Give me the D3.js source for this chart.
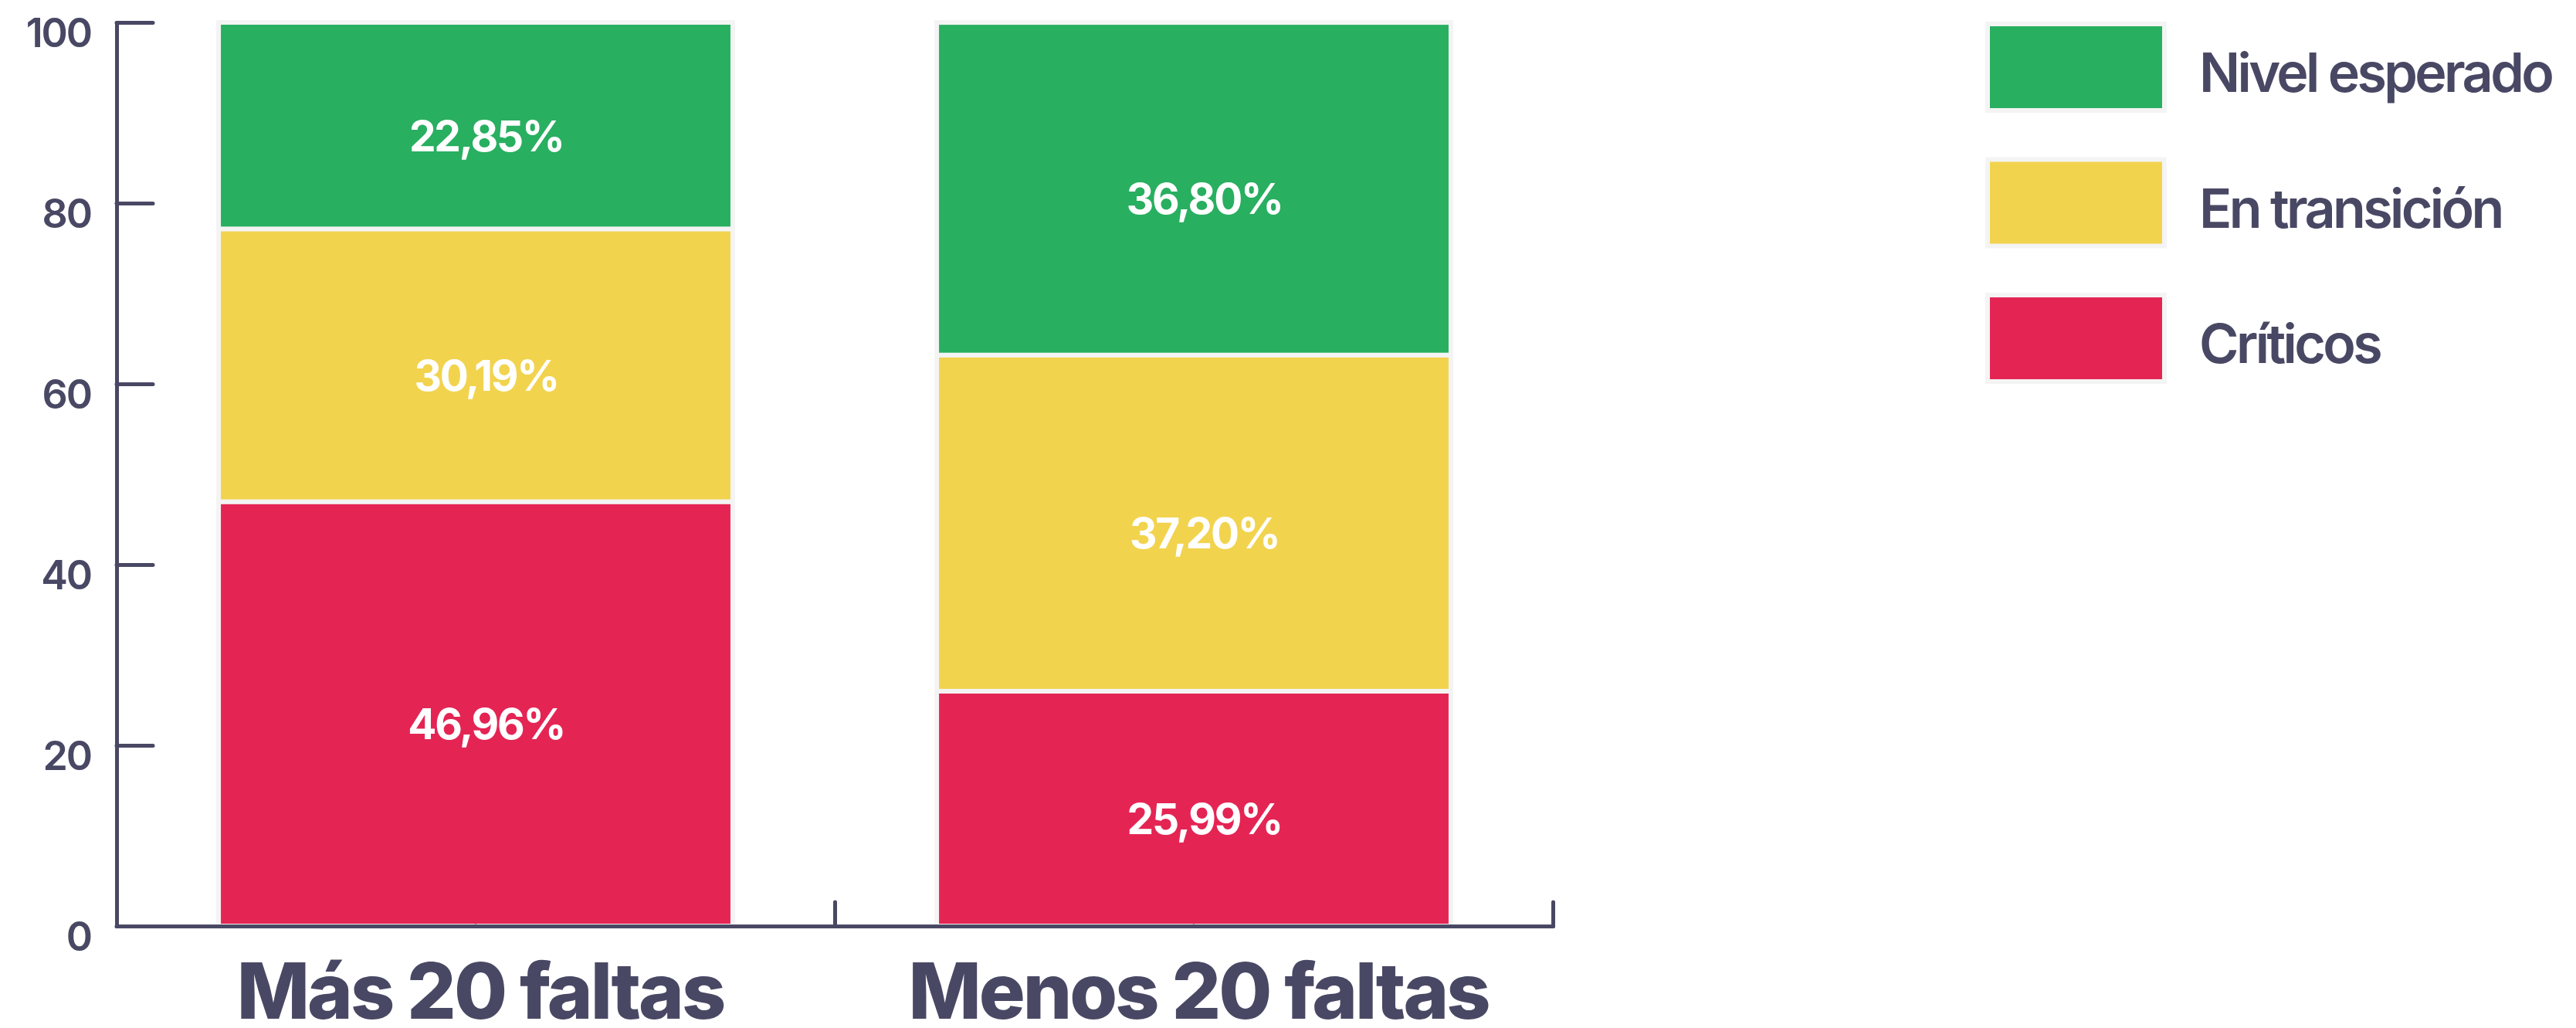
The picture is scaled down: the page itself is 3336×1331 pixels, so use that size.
<!DOCTYPE html>
<html>
<head>
<meta charset="utf-8">
<script src="https://cdn.jsdelivr.net/npm/d3@7"></script>
<style>
    body { margin: 0; background: #fff; }
    svg text { font-family: Inter, "Noto Sans", sans-serif; }
    .axis path, .axis line { stroke: #494864; stroke-width: 5; stroke-linecap: round; }
    .axis text { fill: #494864; }
</style>
</head>
<body>
<div id="grafico"></div>
<script>
// datos
var categorias = ["Más 20 faltas", "Menos 20 faltas"];
var criticos = [46.96, 25.99];
var enTransicion = [30.19, 37.20];
var nivelEsperado = [22.85, 36.80];
var series = ["Críticos", "En transición", "Nivel esperado"];
var colores = ["#e42554", "#f2d34e", "#28af60"];
var yTicks = [0, 20, 40, 60, 80, 100];

var W = 3336, H = 1331;
var margin = {top: 29, right: 1325, bottom: 132, left: 151};
var width = W - margin.left - margin.right;
var height = H - margin.top - margin.bottom;

var svg = d3.select("#grafico").append("svg")
        .attr("width", W)
        .attr("height", H);

var g = svg.append("g")
        .attr("transform", "translate(" + margin.left + "," + margin.top + ")");

var tabla = categorias.map(function (c, i) {
    return {categoria: c, "Críticos": criticos[i], "En transición": enTransicion[i], "Nivel esperado": nivelEsperado[i]};
});

var stack = d3.stack().keys(series)(tabla);

var x = d3.scaleBand().domain(categorias).range([0, width]).paddingInner(0.284).paddingOuter(0.142);
var xBordes = d3.scaleLinear().domain([0, categorias.length]).range([0, width]);
var y = d3.scaleLinear().domain([0, 100]).range([height, 0]);
var color = d3.scaleOrdinal().domain(series).range(colores);

// barras
var capas = g.selectAll(".capa")
        .data(stack)
        .enter().append("g")
        .attr("class", "capa")
        .attr("fill", function (d) { return color(d.key); });

capas.selectAll("rect")
        .data(function (d) { return d; })
        .enter().append("rect")
        .attr("x", function (d) { return x(d.data.categoria); })
        .attr("y", function (d) { return y(d[1]); })
        .attr("width", x.bandwidth())
        .attr("height", function (d) { return y(d[0]) - y(d[1]); })
        .attr("stroke", "#f4f4f4")
        .attr("stroke-width", 6);

// etiquetas
capas.selectAll("text")
        .data(function (d) { return d; })
        .enter().append("text")
        .attr("x", function (d) { return x(d.data.categoria) + x.bandwidth() / 2; })
        .attr("y", function (d) { return y((d[0] + d[1]) / 2); })
        .attr("dx", "0.25em")
        .attr("dy", "0.6em")
        .attr("text-anchor", "middle")
        .attr("fill", "#fff")
        .style("font-size", "55px")
        .style("font-weight", 700)
        .style("letter-spacing", "-0.04em")
        .text(function (d) { return (d[1] - d[0]).toFixed(2).replace(".", ",") + "%"; });

// ejes
var ejeY = g.append("g")
        .attr("class", "axis axis--y")
        .call(d3.axisLeft(y).tickValues(yTicks).tickSize(-47).tickSizeOuter(0).tickPadding(33));
ejeY.selectAll("text")
        .attr("y", 15)
        .style("font-size", "52px")
        .style("font-weight", 600)
        .style("letter-spacing", "-0.04em");

g.append("g")
        .attr("class", "axis axis--x")
        .attr("transform", "translate(0," + height + ")")
        .call(d3.axisBottom(xBordes).tickValues(d3.range(1, categorias.length + 1)).tickSize(-31).tickSizeOuter(0).tickFormat(""));

var ejeX = g.append("g")
        .attr("class", "axis axis--cat")
        .attr("transform", "translate(0," + height + ")")
        .call(d3.axisBottom(x).tickSize(0));
ejeX.select(".domain").remove();
ejeX.selectAll("text")
        .attr("x", 6)
        .attr("y", 120)
        .attr("dy", 0)
        .style("font-size", "100px")
        .style("font-weight", 800)
        .style("letter-spacing", "-0.03em");

// leyenda
var leyenda = svg.append("g")
        .attr("transform", "translate(2574,31)");

var items = leyenda.selectAll(".item")
        .data(series.slice().reverse())
        .enter().append("g")
        .attr("class", "item")
        .attr("transform", function (d, i) { return "translate(0," + (i * 175.5) + ")"; });

items.append("rect")
        .attr("width", 229)
        .attr("height", 112)
        .attr("fill", function (d) { return color(d); })
        .attr("stroke", "#f4f4f4")
        .attr("stroke-width", 6);

items.append("text")
        .attr("x", 274)
        .attr("y", 88)
        .attr("fill", "#494864")
        .style("font-size", "70px")
        .style("font-weight", 600)
        .style("letter-spacing", "-0.052em")
        .text(function (d) { return d; });
</script>
</body>
</html>
